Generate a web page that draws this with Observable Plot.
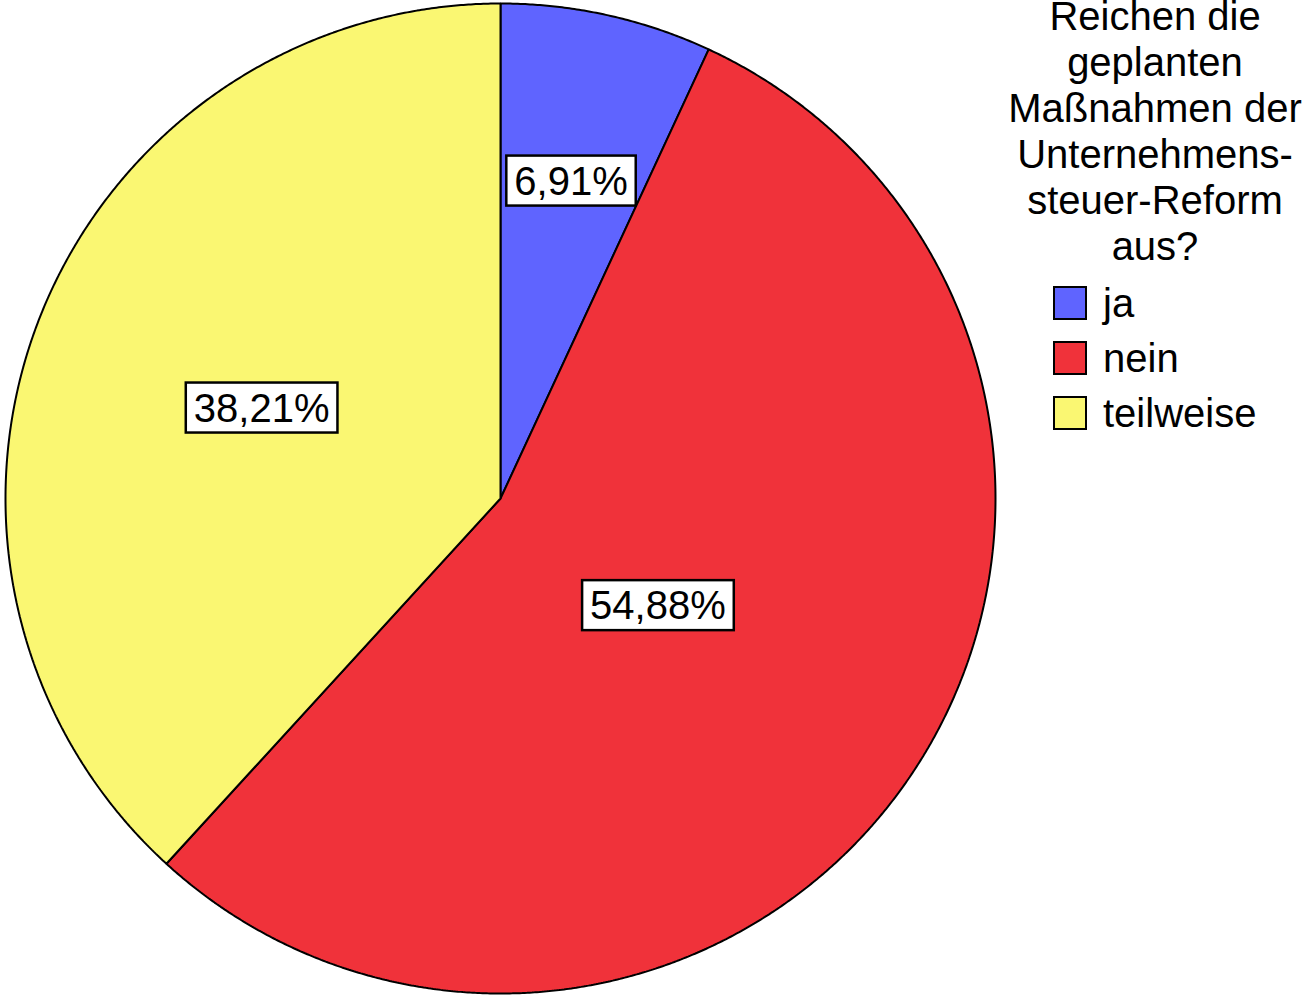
<!DOCTYPE html>
<html>
<head>
<meta charset="utf-8">
<script src="https://cdn.jsdelivr.net/npm/d3@7"></script>
<script src="https://cdn.jsdelivr.net/npm/@observablehq/plot@0.6"></script>
<style>
  html, body { margin: 0; padding: 0; background: #fff; }
  #wrap { display: flex; flex-direction: row; width: 1305px; height: 997px; overflow: hidden;
          font-family: "Liberation Sans", Arial, sans-serif; }
  #legend { width: 305px; position: relative; color: #000; }
  #legend .title { text-align: center; font-size: 40px; line-height: 46px; margin-top: -7px; padding-left: 5px; }
  #legend .items { margin-top: 6.5px; padding-left: 53px; }
  #legend .item { display: flex; align-items: center; height: 55px; font-size: 40px; line-height: 46px; }
  #legend .sw { width: 30px; height: 30px; border: 2px solid #000; flex: none; }
  #legend .lab { margin-left: 16px; }
</style>
</head>
<body>
<div id="wrap"><div id="chart"></div><div id="legend"></div></div>
<script>
// ---- data ----
const categories = ["ja", "nein", "teilweise"];
const percents = [6.91, 54.88, 38.21];
const labels = ["6,91%", "54,88%", "38,21%"];
const colors = ["#5f64ff", "#f0323a", "#faf772"];
const legendTitle = ["Reichen die", "geplanten", "Maßnahmen der", "Unternehmens-", "steuer-Reform", "aus?"];

// ---- geometry (angles from d3.pie, clockwise from 12 o'clock) ----
const pie = d3.pie().sort(null).value(d => d.value);
const arcs = pie(categories.map((c, i) => ({key: c, value: percents[i], label: labels[i]})));

const polyPts = [];
arcs.forEach(a => {
  polyPts.push({key: a.data.key, x: 0, y: 0});
  const n = Math.max(8, Math.ceil((a.endAngle - a.startAngle) / 0.005));
  for (let k = 0; k <= n; k++) {
    const t = a.startAngle + (a.endAngle - a.startAngle) * k / n;
    polyPts.push({key: a.data.key, x: Math.sin(t), y: Math.cos(t)});
  }
});

// label at the sector's area centroid
const labelPts = arcs.map(a => {
  const al = a.endAngle - a.startAngle;
  const m = (a.startAngle + a.endAngle) / 2;
  const d = 4 * Math.sin(al / 2) / (3 * al);
  return {label: a.data.label, x: d * Math.sin(m), y: d * Math.cos(m)};
});

const chart = Plot.plot({
  width: 1000,
  height: 997,
  marginLeft: 5, marginRight: 5, marginTop: 3, marginBottom: 4,
  x: {domain: [-1, 1], axis: null},
  y: {domain: [-1, 1], axis: null},
  color: {domain: categories, range: colors},
  style: {fontFamily: "'Liberation Sans', Arial, sans-serif", background: "#fff"},
  marks: [
    Plot.line(polyPts, {x: "x", y: "y", z: "key", fill: "key", stroke: "#000", strokeWidth: 2,
                        curve: "linear-closed", strokeLinejoin: "miter"}),
    Plot.text(labelPts, {x: "x", y: "y", text: "label", fontSize: 40, fill: "#000", dy: 3})
  ]
});
document.getElementById("chart").appendChild(chart);

// white framed boxes behind the value labels
const ns = "http://www.w3.org/2000/svg";
chart.querySelectorAll('g[aria-label="text"] text').forEach(t => {
  const b = t.getBBox();
  const r = document.createElementNS(ns, "rect");
  r.setAttribute("x", b.x - 8);
  r.setAttribute("y", b.y - 3);
  r.setAttribute("width", b.width + 16);
  r.setAttribute("height", b.height + 6);
  r.setAttribute("fill", "#fff");
  r.setAttribute("stroke", "#000");
  r.setAttribute("stroke-width", 2.5);
  const tr = t.getAttribute("transform");
  if (tr) r.setAttribute("transform", tr);
  t.parentNode.insertBefore(r, t);
});

// legend
const lg = document.getElementById("legend");
const title = document.createElement("div");
title.className = "title";
title.innerHTML = legendTitle.join("<br>");
lg.appendChild(title);
const items = document.createElement("div");
items.className = "items";
categories.forEach((c, i) => {
  const it = document.createElement("div");
  it.className = "item";
  it.innerHTML = `<span class="sw" style="background:${colors[i]}"></span><span class="lab">${c}</span>`;
  items.appendChild(it);
});
lg.appendChild(items);
</script>
</body>
</html>
